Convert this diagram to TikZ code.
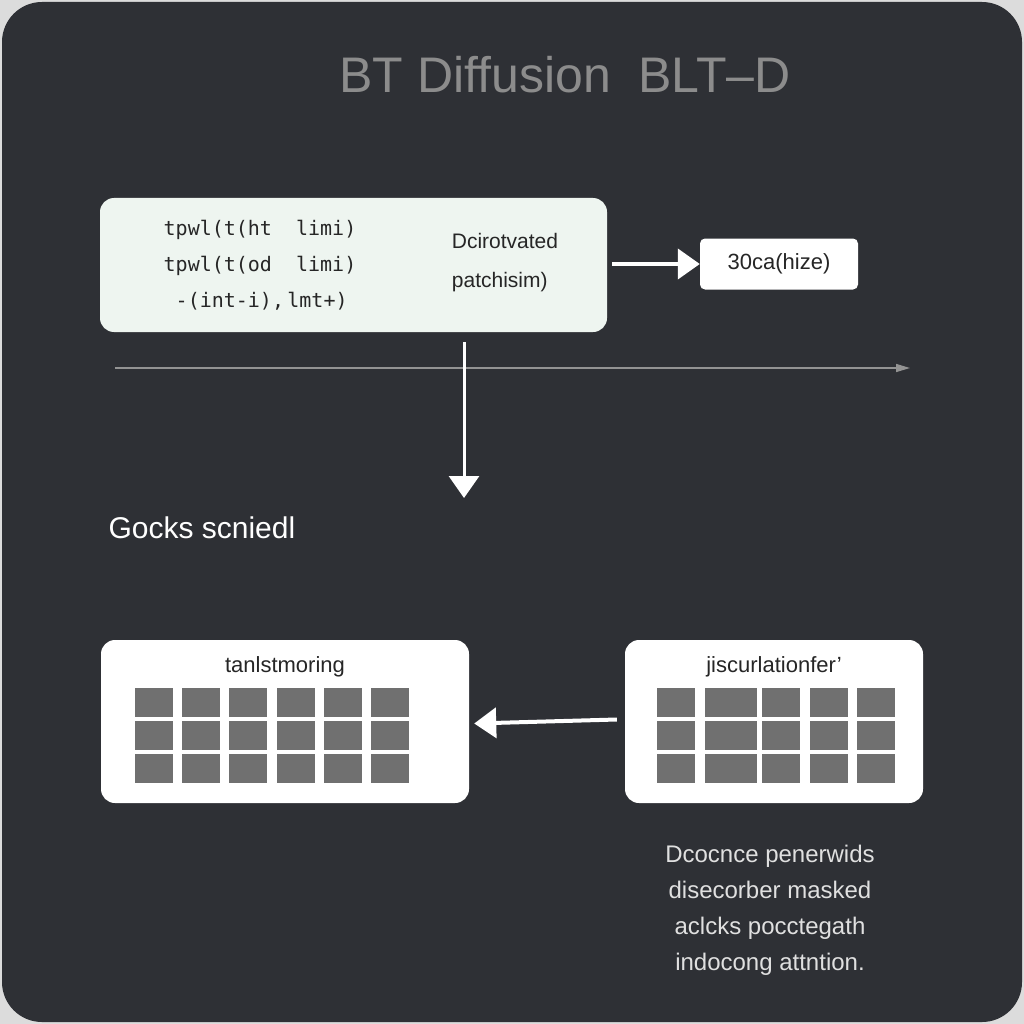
\documentclass[tikz,border=0pt]{standalone}
\usepackage{fontspec}
\setmainfont{Liberation Sans}
\setmonofont{DejaVu Sans Mono}
\usetikzlibrary{arrows.meta}
\definecolor{bg}{HTML}{2E3035}
\definecolor{edge}{HTML}{DCDCDC}
\definecolor{cell}{HTML}{707070}
\definecolor{panel}{HTML}{EEF5F0}
\begin{document}
\begin{tikzpicture}[x=1pt,y=-1pt,
  box/.style={draw=none,fill=white,rounded corners=14pt},
  arr/.style={draw=white,line width=4pt,-{Triangle[length=22pt,width=30pt]}},
  lab/.style={font=\fontsize{22}{26}\selectfont,text=black!85},
  note/.style={font=\fontsize{24}{36}\selectfont,text=white!88!black,align=center}]
\useasboundingbox (0,0) rectangle (1024,1024);
\fill[edge] (0,0) rectangle (1024,1024);
\fill[bg,rounded corners=40pt] (2,2) rectangle (1022,1022);
\node[text=white!55!black,font=\fontsize{50}{56}\selectfont] (title) at (565,75) {BT Diffusion\ \ BLT–D};
% top box
\fill[panel,rounded corners=14pt] (100,198) rectangle (607,332);
\node (top) at (353,265) [minimum width=507pt,minimum height=134pt] {};
\node[lab,font=\ttfamily\fontsize{20}{36}\selectfont,align=left] (code) at (260,265) {tpwl(t(ht\ \ limi)\\tpwl(t(od\ \ limi)\\\ -(int-i),\,lmt+)};
\node[lab,align=left,font=\fontsize{21}{39}\selectfont] (dc) at (505,263) {Dcirotvated\\patchisim)};
\node[box,rounded corners=5pt,minimum width=158pt,minimum height=51pt,lab] (oc) at (779,264) {30ca(hize)};
\coordinate (a1) at (612,264);
\draw[arr] (a1) -- (oc.west);
% axis
\coordinate (h1) at (115,368); \coordinate (h2) at (910,368);
\draw[gray!85,line width=1.5pt,-{Triangle[length=14pt,width=8pt]}] (h1) -- (h2);
\coordinate (v1) at (464,342); \coordinate (v2) at (464,498);
\draw[arr,line width=3pt] (v1) -- (v2);
\node[anchor=west,text=white,font=\fontsize{30}{34}\selectfont] (gocks) at (105,528) {Gocks scniedl};
% bottom boxes
\node[box,minimum width=368pt,minimum height=163pt] (L) at (285,721.5) {};
\node[box,minimum width=298pt,minimum height=163pt] (R) at (774,721.5) {};
\node[lab] (lt) at (285,667) {tanlstmoring};
\node[lab] (rt) at (774,667) {jiscurlationfer'};
\foreach \i in {0,...,5}\foreach \j in {0,1,2}
  \fill[cell] (135+\i*47.2,688+\j*33) rectangle ++(38,29);
\foreach \i/\w in {0/38,1/52,2/38,3/38,4/38}
  \foreach \j in {0,1,2}
  \fill[cell] ({657+\i*47.5+(\i>1?10:0)},688+\j*33) rectangle ++(\w,29);
\draw[arr] (R.west)+(-8,-2) -- ([yshift=-2pt,xshift=5pt]L.east);
\node[note] (txt) at (770,910) {Dcocnce penerwids\\disecorber masked\\aclcks pocctegath\\indocong attntion.};
\end{tikzpicture}
\end{document}
